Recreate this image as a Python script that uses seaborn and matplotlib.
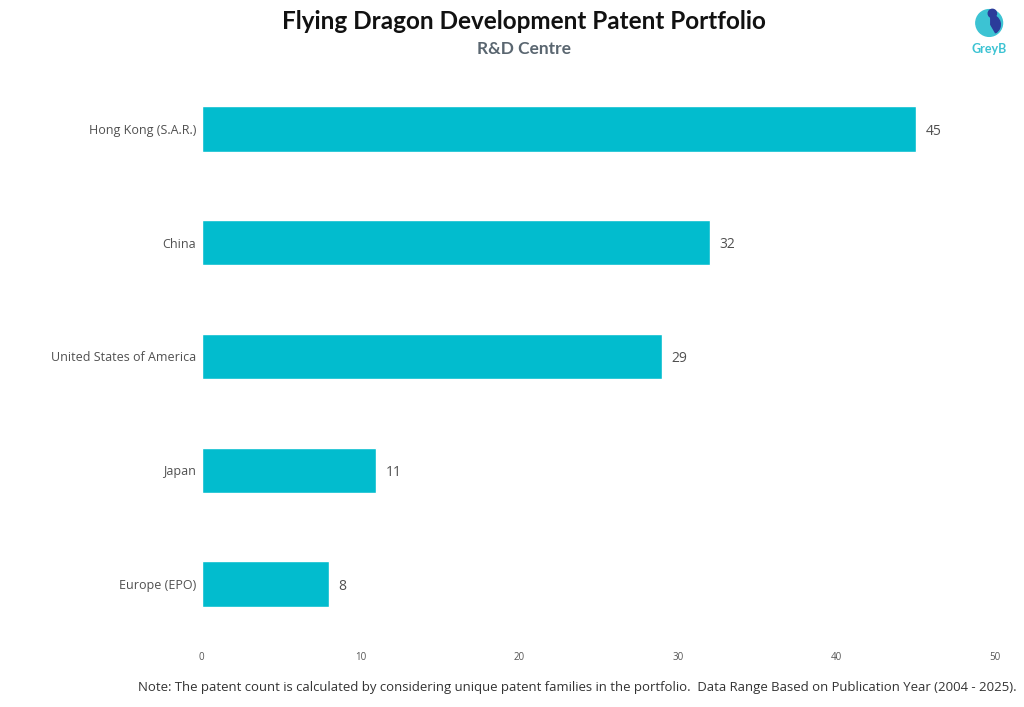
import matplotlib
matplotlib.use("Agg")
import matplotlib.pyplot as plt
import seaborn as sns
import pandas as pd
from matplotlib.patches import Circle, Wedge

# data
centres = ["Hong Kong (S.A.R.)", "China", "United States of America", "Japan", "Europe (EPO)"]
patents = [45, 32, 29, 11, 8]
x_ticks = [0, 10, 20, 30, 40, 50]

df = pd.DataFrame({"centre": centres, "patents": patents})

sns.set_style("white")
plt.rcParams["font.family"] = ["Open Sans", "DejaVu Sans"]

fig = plt.figure(figsize=(10.24, 7.07), dpi=100)
ax = fig.add_axes([0.197, 0.0934, 0.775, 0.8048])

sns.barplot(data=df, x="patents", y="centre", color="#02BCCE", saturation=1,
            width=0.4, ax=ax, orient="h")

ax.set_xlim(0, 50)
ax.set_ylim(4.5, -0.5)
ax.set_xticks(x_ticks)
ax.set_xticklabels([str(t) for t in x_ticks], fontsize=7, color="#555555")
ax.tick_params(axis="y", labelsize=9, colors="#505050", length=0, pad=4)
ax.tick_params(axis="x", length=0, pad=8)
ax.set_xlabel("")
ax.set_ylabel("")
sns.despine(ax=ax, left=True, bottom=True)

# value labels
for i, v in enumerate(patents):
    ax.text(v + 0.6, i + 0.02, str(v), va="center", ha="left", fontsize=10, color="#505050")

# titles
fig.text(0.5115, 0.969, "Flying Dragon Development Patent Portfolio", ha="center", va="center",
         fontsize=17.5, fontweight="bold", family="Lato", color="#111111")
fig.text(0.5115, 0.930, "R&D Centre", ha="center", va="center",
         fontsize=12.5, fontweight="bold", family="Lato", color="#5a6670")

# note
fig.text(0.993, 0.027, "Note: The patent count is calculated by considering unique patent families in the portfolio.  "
         "Data Range Based on Publication Year (2004 - 2025).", ha="right", va="center",
         fontsize=9.45, color="#333333")

# GreyB logo
lax = fig.add_axes([0.948, 0.945, 0.036, 0.045])
lax.set_xlim(0, 1)
lax.set_ylim(0, 1)
lax.set_aspect("equal")
lax.axis("off")
lax.add_patch(Circle((0.5, 0.5), 0.42, color="#3CC3D3"))
lax.add_patch(Wedge((0.55, 0.45), 0.3, -60, 90, color="#2B3C9A"))
lax.add_patch(Circle((0.6, 0.8), 0.13, color="#2B3C9A"))
fig.text(0.966, 0.930, "GreyB", ha="center", va="center", fontsize=9, fontweight="bold",
         family="Lato", color="#3CC3D3")

fig.savefig("out.png", dpi=100)
